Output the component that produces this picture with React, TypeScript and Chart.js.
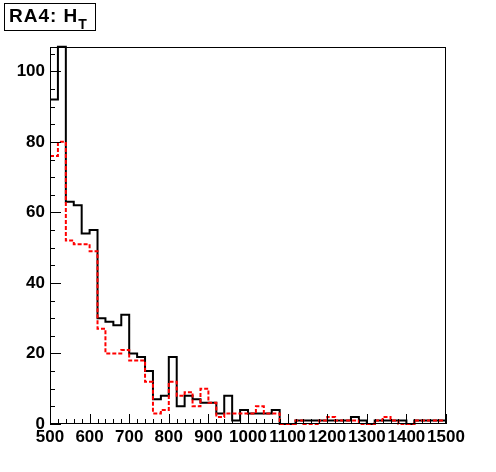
import React, { useEffect, useRef } from "react";
import { Chart, registerables } from "chart.js";

Chart.register(...registerables);

// Histogram: H_T from 500 to 1500 in 50 bins of 20
const binLowEdges = [
  500, 520, 540, 560, 580, 600, 620, 640, 660, 680,
  700, 720, 740, 760, 780, 800, 820, 840, 860, 880,
  900, 920, 940, 960, 980, 1000, 1020, 1040, 1060, 1080,
  1100, 1120, 1140, 1160, 1180, 1200, 1220, 1240, 1260, 1280,
  1300, 1320, 1340, 1360, 1380, 1400, 1420, 1440, 1460, 1480,
];
const upperEdge = 1500;

const blackCounts = [
  92, 107, 63, 62, 54, 55, 30, 29, 28, 31,
  20, 19, 15, 7, 8, 19, 5, 8, 7, 6,
  6, 3, 8, 1, 4, 3, 3, 3, 4, 0,
  0, 1, 1, 1, 1, 1, 1, 1, 2, 1,
  0, 1, 1, 1, 1, 0, 1, 1, 1, 1,
];
const redCounts = [
  76, 80, 52, 51, 51, 49, 27, 20, 20, 21,
  18, 18, 12, 3, 4, 12, 8, 9, 5, 10,
  6, 2, 3, 3, 3, 3, 5, 3, 3, 0,
  0, 1, 0, 0, 1, 2, 1, 1, 1, 0,
  0, 1, 2, 1, 0, 0, 1, 1, 1, 1,
];

const xTickLabels = [500, 600, 700, 800, 900, 1000, 1100, 1200, 1300, 1400, 1500];
const yTickLabels = [0, 20, 40, 60, 80, 100];
const titleMain = "RA4: H";
const titleSub = "T";

const FONT = '"Liberation Sans", Arial, Helvetica, sans-serif';

function stepPoints(counts: number[]) {
  const pts = counts.map((c, i) => ({ x: binLowEdges[i], y: c }));
  pts.push({ x: upperEdge, y: counts[counts.length - 1] });
  return pts;
}

const rootStyle = {
  id: "rootStyle",
  beforeDraw(chart: any) {
    const ctx = chart.ctx;
    ctx.save();
    ctx.fillStyle = "#fff";
    ctx.fillRect(0, 0, chart.width, chart.height);
    ctx.restore();
  },
  afterDraw(chart: any) {
    const { ctx, chartArea: a, scales } = chart;
    const x = scales.x;
    const y = scales.y;
    ctx.save();
    ctx.strokeStyle = "#000";
    ctx.lineWidth = 1;
    ctx.strokeRect(Math.round(a.left) + 0.5, Math.round(a.top) + 0.5,
      Math.round(a.right - a.left) - 1, Math.round(a.bottom - a.top) - 1);
    ctx.beginPath();
    for (let v = 500; v <= 1500; v += 20) {
      const px = Math.round(x.getPixelForValue(v)) + 0.5;
      const len = v % 100 === 0 ? 10 : 5;
      ctx.moveTo(px, a.bottom);
      ctx.lineTo(px, a.bottom - len);
    }
    for (let v = 0; v <= 105; v += 5) {
      const py = Math.round(y.getPixelForValue(v)) + 0.5;
      const len = v % 20 === 0 ? 11 : 5;
      ctx.moveTo(a.left, py);
      ctx.lineTo(a.left + len, py);
    }
    ctx.stroke();

    // title box
    ctx.fillStyle = "#fff";
    ctx.fillRect(4, 3, 92, 28);
    ctx.strokeRect(4.5, 3.5, 91, 27);
    ctx.fillStyle = "#000";
    ctx.textBaseline = "alphabetic";
    ctx.font = `bold 19px ${FONT}`;
    try { (ctx as any).letterSpacing = "1px"; } catch (e) {}
    ctx.fillText(titleMain, 9, 21.5);
    const w = ctx.measureText(titleMain).width;
    ctx.font = `bold 14px ${FONT}`;
    ctx.fillText(titleSub, 9 + w, 28.5);
    try { (ctx as any).letterSpacing = "0px"; } catch (e) {}
    ctx.restore();
  },
};

export default function App() {
  const ref = useRef<HTMLCanvasElement>(null);
  useEffect(() => {
    if (!ref.current) return;
    const chart = new Chart(ref.current, {
      type: "line",
      data: {
        datasets: [
          {
            label: "red",
            data: stepPoints(redCounts),
            borderColor: "#ff0000",
            borderWidth: 2,
            borderDash: [4, 2],
            stepped: "before",
            pointRadius: 0,
            fill: false,
            clip: false,
            order: 0,
          },
          {
            label: "black",
            data: stepPoints(blackCounts),
            borderColor: "#000000",
            borderWidth: 2,
            stepped: "before",
            pointRadius: 0,
            fill: false,
            clip: false,
            order: 1,
          },
        ],
      },
      options: {
        responsive: false,
        animation: false,
        events: [],
        layout: { padding: { left: 0, right: 50, top: 47, bottom: 0 } },
        plugins: { legend: { display: false }, tooltip: { enabled: false }, title: { display: false } },
        scales: {
          x: {
            type: "linear",
            min: 500,
            max: 1500,
            grid: { display: false, drawTicks: false },
            border: { display: false },
            afterBuildTicks: (s: any) => {
              s.ticks = xTickLabels.map((v) => ({ value: v }));
            },
            afterFit: (s: any) => {
              s.height = 48;
            },
            ticks: {
              autoSkip: false,
              maxRotation: 0,
              minRotation: 0,
              padding: 3,
              color: "#000",
              font: { family: FONT, size: 17, weight: "bold" },
              callback: (v: any) => String(v),
            },
          },
          y: {
            type: "linear",
            min: 0,
            max: 106.9,
            grid: { display: false, drawTicks: false },
            border: { display: false },
            afterBuildTicks: (s: any) => {
              s.ticks = yTickLabels.map((v) => ({ value: v }));
            },
            afterFit: (s: any) => {
              s.width = 50;
            },
            ticks: {
              padding: 5,
              color: "#000",
              font: { family: FONT, size: 17, weight: "bold" },
              callback: (v: any) => String(v),
            },
          },
        },
      },
      plugins: [rootStyle],
    } as any);
    return () => chart.destroy();
  }, []);
  return (
    <div style={{ position: "fixed", left: 0, top: 0, width: 496, height: 472, background: "#fff" }}>
      <canvas ref={ref} width={496} height={472} style={{ display: "block", width: 496, height: 472 }} />
    </div>
  );
}
